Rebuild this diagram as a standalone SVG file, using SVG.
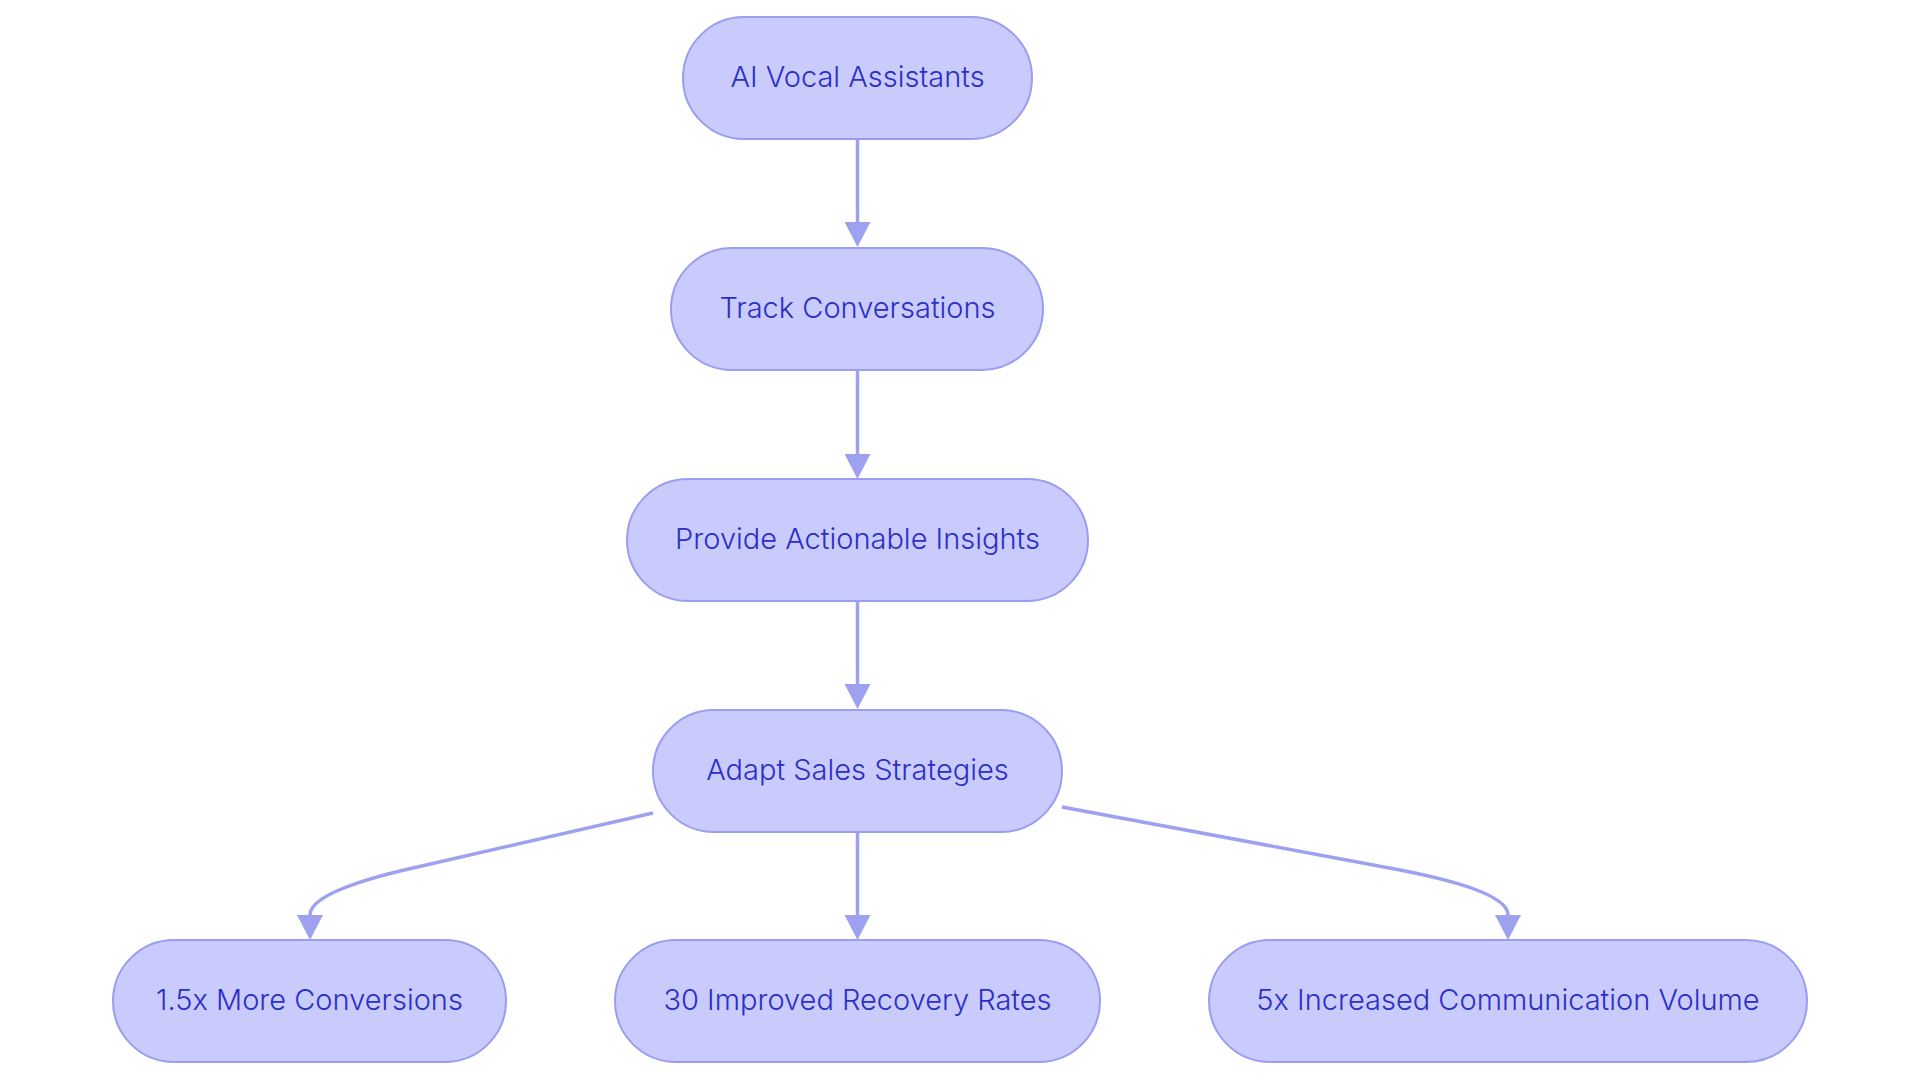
<svg xmlns="http://www.w3.org/2000/svg" width="1920" height="1083" viewBox="0 0 1920 1083">
<style>
.node rect{fill:#C9CBFC;stroke:#9A9DF0;stroke-width:2}
.node text{font-family:Inter,"Noto Sans","Liberation Sans",sans-serif;font-size:29px;font-weight:300;fill:#2C2FC6;text-anchor:middle}
.edge{fill:none;stroke:#9DA1F0;stroke-width:3.5}
</style>
<defs>
<marker id="arr" viewBox="0 0 25 26" refX="0" refY="13" markerWidth="25" markerHeight="26" markerUnits="userSpaceOnUse" orient="auto">
<path d="M0,0 L25,13 L0,26 Z" fill="#9DA1F0"/>
</marker>
</defs>
<rect width="1920" height="1083" fill="#ffffff"/>
<g id="connectors">
<path class="edge" d="M857.5,139 L857.5,222" marker-end="url(#arr)"/>
<path class="edge" d="M857.5,370 L857.5,454" marker-end="url(#arr)"/>
<path class="edge" d="M857.5,601 L857.5,684" marker-end="url(#arr)"/>
<path class="edge" d="M857.5,832 L857.5,915" marker-end="url(#arr)"/>
<path class="edge" d="M653,813 L400,871 Q310,893 310,915" marker-end="url(#arr)"/>
<path class="edge" d="M1062,807 L1400,870 Q1508,891 1508,915" marker-end="url(#arr)"/>
</g>
<g id="node-ai" class="node"><rect x="683" y="17" width="349" height="122" rx="61"/><text x="857.5" y="87">AI Vocal Assistants</text></g>
<g id="node-track" class="node"><rect x="671" y="248" width="372" height="122" rx="61"/><text x="857.5" y="318">Track Conversations</text></g>
<g id="node-provide" class="node"><rect x="627" y="479" width="461" height="122" rx="61"/><text x="857.5" y="549">Provide Actionable Insights</text></g>
<g id="node-adapt" class="node"><rect x="653" y="710" width="409" height="122" rx="61"/><text x="857.5" y="780">Adapt Sales Strategies</text></g>
<g id="node-conv" class="node"><rect x="113" y="940" width="393" height="122" rx="61"/><text x="309.5" y="1010">1.5x More Conversions</text></g>
<g id="node-recov" class="node"><rect x="615" y="940" width="485" height="122" rx="61"/><text x="857.5" y="1010">30 Improved Recovery Rates</text></g>
<g id="node-comm" class="node"><rect x="1209" y="940" width="598" height="122" rx="61"/><text x="1508" y="1010">5x Increased Communication Volume</text></g>
</svg>
